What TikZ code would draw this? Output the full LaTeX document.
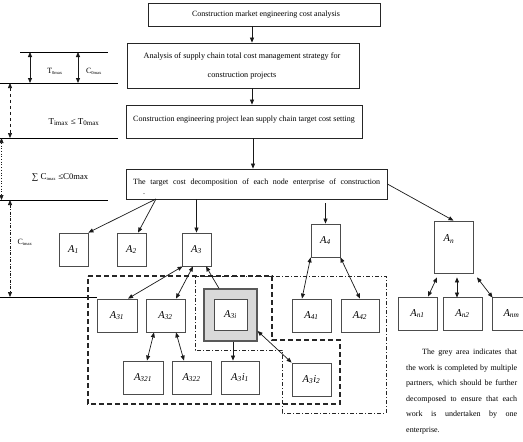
\documentclass[tikz,border=0pt]{standalone}
\usepackage{fontspec}
\setmainfont{Liberation Serif}
\usetikzlibrary{arrows.meta}
\newcommand\Alab[1]{\textit{A}\textsubscript{\textit{#1}}}
\begin{document}
\begin{tikzpicture}[x=1pt,y=-1pt,
  >={Triangle[length=5pt,width=4pt]},
  mainbox/.style={draw=black!85,line width=0.8pt,inner sep=0,minimum width=#1},
  abox/.style={draw=black!70,line width=0.8pt,inner sep=0,minimum height=33,minimum width=#1,font=\fontsize{10.5}{12}\selectfont},
  conn/.style={line width=0.7pt,black!90},
  bconn/.style={line width=0.7pt,black!90,<->},
  lvl/.style={line width=1pt,black},
  txt/.style={font=\fontsize{8}{9}\selectfont,inner sep=0},
  lefttxt/.style={font=\fontsize{9}{10}\selectfont,inner sep=0},
  regdash/.style={line width=1.2pt,black!85,dash pattern=on 5pt off 3pt},
  regdot/.style={line width=0.8pt,black!85,dash pattern=on 4pt off 2pt on 1pt off 2pt}
]
\useasboundingbox (0,0) rectangle (523,442);
\clip (0,0) rectangle (523,442);

% ---- main boxes
\node[mainbox=232,minimum height=23] (top) at (264,14.5) {};
\node[txt] (ttop) at (266,14.5) {Construction market engineering cost analysis};
\node[mainbox=232,minimum height=45] (b2) at (243,65.5) {};
\node[txt,align=center,font=\fontsize{8.2}{19}\selectfont] (tb2) at (242,65.5) {Analysis of supply chain total cost management strategy for\\construction projects};
\node[mainbox=236,minimum height=33] (b3) at (244,121.5) {};
\node[txt,anchor=base west] (tb3) at (133,121) {Construction engineering project lean supply chain target cost setting};
\node[mainbox=261,minimum height=30] (b4) at (256.5,184) {};
\node[txt,anchor=north west,text width=247,align=justify,font=\fontsize{8}{9.5}\selectfont] (tb4) at (133,179) {The target cost decomposition of each node enterprise of construction\linebreak\hspace*{10pt}.};

\draw[conn,->] ([xshift=-12pt]top.south) -- ([xshift=9pt]b2.north);
\draw[conn,->] ([xshift=9pt]b2.south) -- ([xshift=8pt]b3.north);
\draw[conn,->] ([xshift=9pt]b3.south) -- ([xshift=-3.5pt]b4.north);

% ---- left levels
\coordinate (l1a) at (20,52);  \coordinate (l1b) at (108,52);
\coordinate (l2a) at (0,83);   \coordinate (l2b) at (118,83);
\coordinate (l3a) at (0,138);  \coordinate (l3b) at (118,138);
\coordinate (l4a) at (0,200);  \coordinate (l4b) at (108,200);
\coordinate (l5a) at (0,297);  \coordinate (l5b) at (97,297);
\draw[lvl] (l1a) -- (l1b);
\draw[lvl] (l2a) -- (l2b);
\draw[lvl] (l3a) -- (l3b);
\draw[lvl] (l4a) -- (l4b);
\draw[lvl] (l5a) -- (l5b);
\coordinate (p1) at (30,52); \coordinate (p2) at (30,83);
\coordinate (p3) at (78,52); \coordinate (p4) at (78,83);
\draw[bconn,line width=0.8pt] (p1) -- (p2);
\draw[bconn,line width=0.8pt] (p3) -- (p4);
\coordinate (q1) at (10,83); \coordinate (q2) at (10,138);
\draw[bconn,dashed] (q1) -- (q2);
\coordinate (r1) at (1.5,138); \coordinate (r2) at (1.5,200);
\draw[bconn,dotted] (r1) -- (r2);
\coordinate (s1) at (10,200); \coordinate (s2) at (10,297);
\draw[bconn,dash pattern=on 3pt off 1.5pt on 0.8pt off 1.5pt] (s1) -- (s2);

\node[inner sep=0,font=\fontsize{8}{9}\selectfont] (lt0) at (55,71) {T\textsubscript{\fontsize{4.5}{5}\selectfont 0max}};
\node[inner sep=0,font=\fontsize{8}{9}\selectfont] (lc0) at (94,71) {C\textsubscript{\fontsize{4.5}{5}\selectfont 0max}};
\node[lefttxt] (lti) at (74,122) {T\textsubscript{\fontsize{7}{8}\selectfont imax} ≤ T\textsubscript{\fontsize{7}{8}\selectfont 0max}};
\node[lefttxt] (lci) at (60,177) {∑ C\textsubscript{\fontsize{4.5}{5}\selectfont imax} ≤C{\fontsize{8.5}{9}\selectfont 0max}};
\node[inner sep=0,font=\fontsize{8}{9}\selectfont] (lcm) at (25,242) {C\textsubscript{\fontsize{4.5}{5}\selectfont imax}};

% ---- regions
\draw[regdash] (88,276) -- (272,276) -- (272,340) -- (340,340) -- (340,404) -- (88,404) -- cycle;
\draw[regdot] (195,276) -- (386,276) -- (386,413) -- (282,413) -- (282,350) -- (195,350) -- cycle;

% ---- level 1 nodes
\node[abox=29] (A1) at (73.5,249.5) {\Alab{1}};
\node[abox=29] (A2) at (131.5,249.5) {\Alab{2}};
\node[abox=29] (A3) at (196.5,249.5) {\Alab{3}};
\node[abox=29] (A4) at (325.5,240.5) {\Alab{4}};
\node[abox=39,minimum height=52] (An) at (453.5,247) {};
\node[inner sep=0,font=\fontsize{10.5}{12}\selectfont] (lAn) at (449,239) {\Alab{n}};

% ---- level 2 nodes
\node[abox=40] (A31) at (117,315.5) {\Alab{31}};
\node[abox=39] (A32) at (165.5,315.5) {\Alab{32}};
\node[draw=black!65,line width=1.2pt,fill=black!15,inner sep=0,minimum width=53,minimum height=52] (A3i) at (230.5,315) {};
\node[abox=33,minimum height=31,fill=white] (A3in) at (230.5,314.5) {\Alab{3i}};
\node[abox=39] (A41) at (311.5,315.5) {\Alab{41}};
\node[abox=38] (A42) at (360,315.5) {\Alab{42}};
\node[abox=39] (An1) at (417.5,313.5) {\Alab{n1}};
\node[abox=39] (An2) at (462.5,313.5) {\Alab{n2}};
\node[abox=39] (Anm) at (511.5,313.5) {\Alab{nm}};

% ---- level 3 nodes
\node[abox=40] (A321) at (143,377.5) {\Alab{321}};
\node[abox=39] (A322) at (191.5,377.5) {\Alab{322}};
\node[abox=38] (A3i1) at (240,377.5) {\textit{A}\textsubscript{\textit{3}}\textit{i}\textsubscript{\textit{1}}};
\node[abox=39] (A3i2) at (311.5,379.5) {\textit{A}\textsubscript{\textit{3}}\textit{i}\textsubscript{\textit{2}}};

% ---- connectors
\coordinate (b4s) at (156,199);
\draw[conn,->] (b4s) -- (A1.north east);
\draw[conn,->] (b4s) -- ([xshift=6.5pt]A2.north);
\draw[conn,->] (A3.north |- b4.south) -- (A3.north);
\draw[conn,->] ([yshift=-4pt]A4.north |- b4.south) -- (A4.north);
\draw[conn,->] (b4.east) -- (An.north);
\draw[bconn] (A4.south west) -- ([xshift=-9.5pt]A41.north);
\draw[bconn] (A4.south east) -- (A42.north);
\draw[bconn] ([xshift=-16.5pt,yshift=-4pt]An.south) -- ([xshift=10.5pt]An1.north);
\draw[bconn] ([xshift=3.5pt,yshift=-4pt]An.south) -- ([xshift=-5.5pt,yshift=-1pt]An2.north);
\draw[bconn] ([xshift=23.5pt,yshift=-4pt]An.south) -- ([xshift=1pt,yshift=-1pt]Anm.north west);
\draw[bconn] ([xshift=1pt]A3.south west) -- ([xshift=11pt]A31.north);
\draw[bconn] ([xshift=-3.5pt]A3.south) -- ([xshift=10.5pt]A32.north);
\draw[conn,->] ([xshift=-11.5pt]A3i.north) -- ([xshift=9.5pt]A3.south);
\draw[bconn] ([xshift=-11.5pt]A32.south) -- ([xshift=4pt]A321.north);
\draw[bconn] ([xshift=10.5pt]A32.south) -- ([xshift=-7.5pt]A322.north);
\draw[conn,->] ([xshift=2.5pt]A3i.south) -- ([xshift=-7pt]A3i1.north);
\draw[bconn] ([yshift=-16pt]A3i.east) -- (A3i2.north west);

% ---- note
\node[anchor=north west,inner sep=0,text width=111,align=justify,font=\fontsize{8}{15.5}\selectfont] (note) at (406,349) {\hspace*{16pt}The grey area indicates that\linebreak the work is completed by multiple\linebreak partners, which should be further\linebreak decomposed to ensure that each\linebreak work is undertaken by one\linebreak enterprise.};
\end{tikzpicture}
\end{document}
